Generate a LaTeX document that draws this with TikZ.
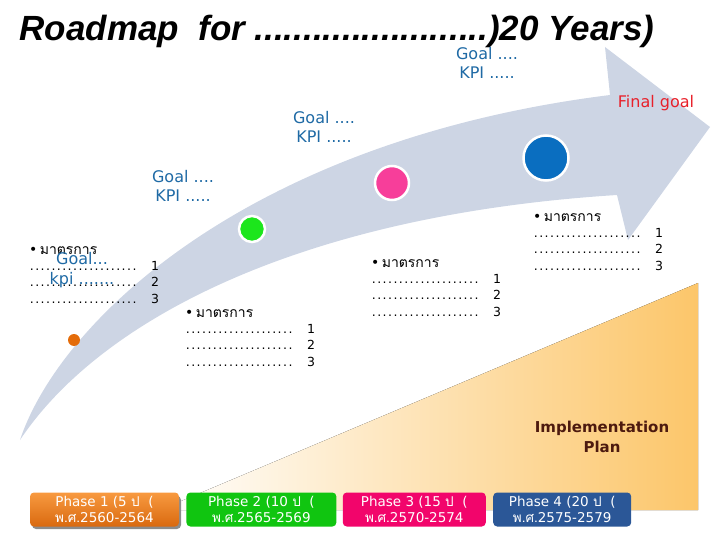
\documentclass[tikz,border=0pt]{standalone}
\usepackage{fontspec}
\setmainfont{DejaVu Sans}
\newfontfamily\titlefont{Liberation Sans}
\newfontfamily\thai[Script=Thai]{Loma}
\usetikzlibrary{positioning}

\definecolor{bandblue}{HTML}{CDD5E4}
\definecolor{planorange}{HTML}{FCC66A}
\definecolor{goalblue}{HTML}{1F6AA5}
\definecolor{finalred}{HTML}{E8202A}
\definecolor{planbrown}{HTML}{4D1A0F}
\definecolor{dotorange}{HTML}{E46C0A}
\definecolor{dotgreen}{HTML}{1CE61C}
\definecolor{dotpink}{HTML}{F73E9A}
\definecolor{dotblue}{HTML}{0A6EC0}
\definecolor{ph1top}{HTML}{F89A40}
\definecolor{ph1bot}{HTML}{D9690F}
\definecolor{ph2}{HTML}{10C510}
\definecolor{ph3}{HTML}{F2056B}
\definecolor{ph4}{HTML}{2B5797}

% one row of dots with its number
\newcommand\dotrow[1]{{\rmfamily\fontsize{12.5}{16}\selectfont\hbox to 112pt{\leaders\hbox to 5.4pt{\hss.\hss}\hfill}\hspace{10pt}#1}}
\newcommand\measures{{\rmfamily\fontsize{14}{14}\selectfont •}\,มาตรการ\\\dotrow{1}\\\dotrow{2}\\\dotrow{3}}

\begin{document}
\begin{tikzpicture}[x=1pt,y=-1pt,
  goal/.style={text=goalblue,align=center,font=\fontsize{16}{19.5}\selectfont},
  measure/.style={anchor=north west,align=left,inner sep=0pt,font=\thai\fontsize{14}{16.4}\selectfont},
  ring/.style={circle,draw=white,line width=2.5pt,inner sep=0pt},
  phase/.style={rounded corners=4pt,text=white,align=center,inner sep=0pt,
    minimum height=34pt,font=\fontsize{13.5}{16}\selectfont}]

\useasboundingbox (0,0) rectangle (720,540);

% plan wedge
\fill[left color=white,middle color=planorange!55,right color=planorange]
  (160,510) -- (698,283) -- (698,510) -- cycle;

% big arrow
\fill[bandblue] (20,440) .. controls (60,320) and (250,140) .. (610,95)
  -- (605,47) -- (710,127) -- (628,240) -- (617,195)
  .. controls (300,215) and (100,320) .. (20,440) -- cycle;

\node[anchor=base west,font=\titlefont\bfseries\itshape\fontsize{35}{40}\selectfont] (title) at (16,41)
  {Roadmap\ \ for ........................)20 Years)};

\node[circle,fill=dotorange,minimum size=12pt,inner sep=0pt] (c1) at (74,340) {};
\node[ring,fill=dotgreen,minimum size=26pt]  (c2) at (252,229) {};
\node[ring,fill=dotpink,minimum size=34pt]   (c3) at (392,183) {};
\node[ring,fill=dotblue,minimum size=45pt]   (c4) at (546,158) {};

\node[measure] (m1) at (29,246) {\measures};
\node[measure] (m2) at (185,309) {\measures};
\node[measure] (m3) at (371,259) {\measures};
\node[measure] (m4) at (533,213) {\measures};

\node[goal] (g0) at (82,270) {Goal...\\kpi .......};
\node[goal] (g3) at (183,186) {Goal ....\\KPI .....};
\node[goal] (g2) at (324,127) {Goal ....\\KPI .....};
\node[goal] (g1) at (487,63) {Goal ....\\KPI .....};
\node[text=finalred,font=\fontsize{16}{19}\selectfont] (fin) at (656,103) {Final goal};

\node[text=planbrown,align=center,font=\bfseries\fontsize{15}{20}\selectfont] (plan) at (602,437) {Implementation\\Plan};

% shadow under the first phase
\fill[black!45,rounded corners=4pt] (32,496) rectangle (181,529);
\node[phase,top color=ph1top,bottom color=ph1bot,minimum width=149pt] (p1) at (104.5,509.5) {Phase 1 (5 {\thai ป}\ \ (\\{\thai พ.ศ.}2560-2564};
\node[phase,fill=ph2,minimum width=150pt,right=7pt of p1] (p2) {Phase 2 (10 {\thai ป}\ \ (\\{\thai พ.ศ.}2565-2569};
\node[phase,fill=ph3,minimum width=143pt,right=6pt of p2] (p3) {Phase 3 (15 {\thai ป}\ \ (\\{\thai พ.ศ.}2570-2574};
\node[phase,fill=ph4,minimum width=138pt,right=7pt of p3] (p4) {Phase 4 (20 {\thai ป}\ \ (\\{\thai พ.ศ.}2575-2579};

\end{tikzpicture}
\end{document}
